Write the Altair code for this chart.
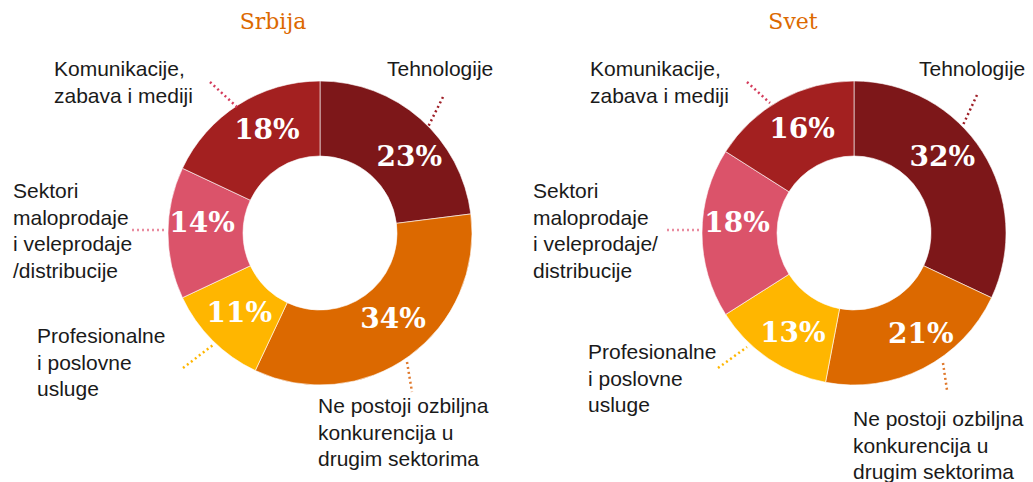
import altair as alt
import pandas as pd

# ---------------- data ----------------
panels = ["Srbija", "Svet"]
categories = [
    "Tehnologije",
    "Ne postoji ozbiljna konkurencija u drugim sektorima",
    "Profesionalne i poslovne usluge",
    "Sektori maloprodaje i veleprodaje/distribucije",
    "Komunikacije, zabava i mediji",
]
srbija_values = [23, 34, 11, 14, 18]
svet_values = [32, 21, 13, 18, 16]

srbija_label_lines = [
    ["Tehnologije"],
    ["Ne postoji ozbiljna", "konkurencija u", "drugim sektorima"],
    ["Profesionalne", "i poslovne", "usluge"],
    ["Sektori", "maloprodaje", "i veleprodaje", "/distribucije"],
    ["Komunikacije,", "zabava i mediji"],
]
svet_label_lines = [
    ["Tehnologije"],
    ["Ne postoji ozbiljna", "konkurencija u", "drugim sektorima"],
    ["Profesionalne", "i poslovne", "usluge"],
    ["Sektori", "maloprodaje", "i veleprodaje/", "distribucije"],
    ["Komunikacije,", "zabava i mediji"],
]

# ---------------- styles / layout ----------------
slice_colors = ["#7D1719", "#DC6900", "#FFB600", "#DB536A", "#A32020"]
leader_colors = ["#9E1E26", "#E07A2E", "#FFB600", "#E98CA0", "#D43C5C"]
title_color = "#DC6900"

W, H = 1017, 474
MARGIN = 8
centers = {"Srbija": (320, 233), "Svet": (854, 233)}
title_pos = {"Srbija": (273, 22), "Svet": (793, 22)}
label_anchor = {
    "Srbija": [(387, 70), (318, 407), (37, 337), (13, 192), (54, 70)],
    "Svet": [(919, 70), (853, 420), (588, 353), (533, 192), (590, 70)],
}
leaders = {
    "Srbija": [((443, 97), (428, 127)), ((407, 362), (412, 392)),
               ((183, 368), (213, 345)), ((132, 230), (167, 230)),
               ((210, 82), (237, 107))],
    "Svet": [((977, 95), (963, 125)), ((943, 363), (947, 390)),
             ((718, 368), (747, 347)), ((667, 230), (702, 230)),
             ((747, 82), (770, 103))],
}
# fine offsets of the percentage labels from the slice mid-point (px)
pct_offsets = {
    "Srbija": [(14, 11), (6, -5), (0, 0), (-4, -9), (8, -6)],
    "Svet": [(-8, -14), (15, 0), (3, 7), (-3, -9), (3, -3)],
}
LINE_H = 26.5
OUTER, INNER, MID = 152, 77, 114

# ---------------- tables ----------------
values_by_panel = {"Srbija": srbija_values, "Svet": svet_values}
lines_by_panel = {"Srbija": srbija_label_lines, "Svet": svet_label_lines}

slice_rows = []
for p in panels:
    cx, cy = centers[p]
    for i, (c, v) in enumerate(zip(categories, values_by_panel[p])):
        slice_rows.append({"panel": p, "category": c, "value": v, "idx": i,
                           "pct": f"{v}%", "cx": cx, "cy": cy})
slices = pd.DataFrame(slice_rows)

label_rows = []
leader_rows = []
for p in panels:
    for i, c in enumerate(categories):
        lx, ly = label_anchor[p][i]
        for j, line in enumerate(lines_by_panel[p][i]):
            label_rows.append({"panel": p, "text": line, "x": lx, "y": ly + j * LINE_H})
        (x1, y1), (x2, y2) = leaders[p][i]
        leader_rows.append({"panel": p, "category": c, "x": x1, "y": y1, "x2": x2, "y2": y2})
labels = pd.DataFrame(label_rows)
leader_df = pd.DataFrame(leader_rows)
titles = pd.DataFrame([{"text": p, "x": title_pos[p][0], "y": title_pos[p][1]} for p in panels])

xs = alt.Scale(domain=[MARGIN, MARGIN + W])
ys = alt.Scale(domain=[MARGIN + H, MARGIN])


def X(f):
    return alt.X(f, type="quantitative", scale=xs, axis=None)


def Y(f):
    return alt.Y(f, type="quantitative", scale=ys, axis=None)


color_scale = alt.Scale(domain=categories, range=slice_colors)
leader_scale = alt.Scale(domain=categories, range=leader_colors)
theta_scale = alt.Scale(domain=[0, 100])

layers = []
for p in panels:
    base = alt.Chart(slices).transform_filter(alt.datum.panel == p)
    arc = base.mark_arc(outerRadius=OUTER, innerRadius=INNER, stroke="#ffffff",
                        strokeWidth=0.6).encode(
        x=X("cx"), y=Y("cy"),
        theta=alt.Theta("value:Q", stack=True, scale=theta_scale),
        order=alt.Order("idx:Q"),
        color=alt.Color("category:N", scale=color_scale, legend=None),
    )
    layers.append(arc)
    mids = base.transform_window(
        cum="sum(value)", sort=[alt.SortField("idx", order="ascending")]
    ).transform_calculate(mid="datum.cum - datum.value / 2")
    for i in range(len(categories)):
        dx, dy = pct_offsets[p][i]
        pct = mids.transform_filter(alt.datum.idx == i).mark_text(
            radius=MID, font="DejaVu Serif", fontWeight="bold", fontSize=28,
            color="#ffffff", baseline="middle", align="center", dx=dx, dy=dy,
        ).encode(
            x=X("cx"), y=Y("cy"),
            theta=alt.Theta("mid:Q", stack=None, scale=theta_scale),
            text="pct:N",
        )
        layers.append(pct)

leader_layer = alt.Chart(leader_df).mark_rule(strokeWidth=2.5, strokeDash=[2, 3]).encode(
    x=X("x"), y=Y("y"), x2="x2:Q", y2="y2:Q",
    color=alt.Color("category:N", scale=leader_scale, legend=None),
)

label_layer = alt.Chart(labels).mark_text(
    font="Liberation Sans", fontSize=21, color="#1a1a1a", align="left", baseline="middle"
).encode(x=X("x"), y=Y("y"), text="text:N")

title_layer = alt.Chart(titles).mark_text(
    font="DejaVu Serif", fontSize=22, color=title_color, align="center", baseline="middle"
).encode(x=X("x"), y=Y("y"), text="text:N")

chart = alt.layer(*layers, leader_layer, label_layer, title_layer).resolve_scale(
    theta="independent", color="independent"
).properties(
    width=W, height=H, padding=0,
    autosize=alt.AutoSizeParams(type="none"),
).configure_view(stroke=None)

chart.save("out.html", embed_options={"renderer": "svg", "actions": False})
